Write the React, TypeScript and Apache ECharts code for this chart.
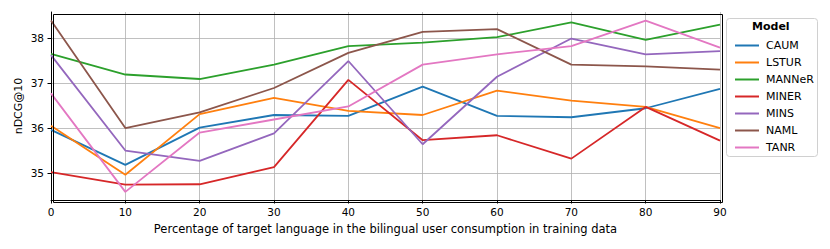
import React, { useEffect, useRef } from "react";
import * as echarts from "echarts";

const percentages = [0, 10, 20, 30, 40, 50, 60, 70, 80, 90];
const modelNames = ["CAUM", "LSTUR", "MANNeR", "MINER", "MINS", "NAML", "TANR"];
const caum = [35.96, 35.18, 36.01, 36.29, 36.27, 36.92, 36.27, 36.24, 36.44, 36.87];
const lstur = [36.05, 34.96, 36.31, 36.67, 36.38, 36.29, 36.83, 36.61, 36.47, 36.0];
const manner = [37.65, 37.19, 37.09, 37.41, 37.82, 37.9, 38.02, 38.35, 37.96, 38.3];
const miner = [35.02, 34.74, 34.75, 35.13, 37.07, 35.73, 35.84, 35.32, 36.47, 35.72];
const mins = [37.62, 35.5, 35.27, 35.88, 37.49, 35.64, 37.14, 37.99, 37.64, 37.71];
const naml = [38.39, 36.0, 36.35, 36.89, 37.67, 38.14, 38.2, 37.41, 37.37, 37.3];
const tanr = [36.77, 34.58, 35.9, 36.19, 36.48, 37.41, 37.64, 37.82, 38.39, 37.79];
const yTicks = [35, 36, 37, 38];

const seriesValues = [caum, lstur, manner, miner, mins, naml, tanr];
const colors = ["#1f77b4", "#ff7f0e", "#2ca02c", "#d62728", "#9467bd", "#8c564b", "#e377c2"];

const FONT = "DejaVu Sans";

export default function App() {
  const ref = useRef<HTMLDivElement>(null);
  useEffect(() => {
    if (!ref.current) return;
    const chart = echarts.init(ref.current, undefined, { renderer: "svg" });
    chart.setOption({
      animation: false,
      grid: { left: 51, right: 110, top: 12, bottom: 49, containLabel: false },
      xAxis: {
        type: "value",
        min: 0,
        max: 90,
        interval: 10,
        name: "Percentage of target language in the bilingual user consumption in training data",
        nameLocation: "middle",
        nameGap: 23,
        nameMoveOverlap: false,
        nameTextStyle: { fontFamily: FONT, fontSize: 11.5, color: "#000" },
        axisLine: { show: true, onZero: false, lineStyle: { color: "#000", width: 1 } },
        axisTick: { show: true, inside: false, length: 3.5, lineStyle: { color: "#000" } },
        axisLabel: { fontFamily: FONT, fontSize: 10.5, color: "#000", margin: 6 },
        splitLine: { show: true, lineStyle: { color: "#b0b0b0", width: 0.8 } },
      },
      yAxis: {
        type: "value",
        min: 34.4,
        max: 38.58,
        name: "nDCG@10",
        nameLocation: "middle",
        nameGap: 27,
        nameMoveOverlap: false,
        nameTextStyle: { fontFamily: FONT, fontSize: 11, color: "#000" },
        axisLine: { show: true, onZero: false, lineStyle: { color: "#000", width: 1 } },
        axisTick: { show: true, inside: false, length: 3.5, lineStyle: { color: "#000" }, customValues: yTicks },
        axisLabel: { fontFamily: FONT, fontSize: 10.5, color: "#000", margin: 7, customValues: yTicks },
        splitLine: { show: true, lineStyle: { color: "#b0b0b0", width: 0.8 } },
      },
      legend: {
        orient: "vertical",
        left: 730,
        top: 32,
        itemWidth: 24,
        itemHeight: 2,
        itemGap: 0,
        icon: "rect",
        textStyle: { fontFamily: FONT, fontSize: 11, color: "#000", lineHeight: 17, padding: [0, 0, 0, 2] },
        data: modelNames,
      },
      graphic: [
        {
          type: "rect",
          left: 51,
          top: 12,
          shape: { width: 669, height: 188 },
          style: { fill: "none", stroke: "#000", lineWidth: 1 },
          z: 10,
          silent: true,
        },
        {
          type: "rect",
          left: 726,
          top: 18,
          shape: { width: 91, height: 138, r: 3 },
          style: { fill: "#fff", stroke: "#d0d0d0", lineWidth: 1 },
          z: -1,
        },
        {
          type: "text",
          left: 752,
          top: 21,
          style: { text: "Model", fontFamily: FONT, fontSize: 11, fontWeight: "bold", fill: "#000" },
        },
      ],
      series: modelNames.map((name, i) => ({
        name,
        type: "line",
        data: percentages.map((p, j) => [p, seriesValues[i][j]]),
        showSymbol: false,
        symbol: "none",
        lineStyle: { color: colors[i], width: 1.8 },
        itemStyle: { color: colors[i] },
      })),
    });
    return () => chart.dispose();
  }, []);
  return <div ref={ref} style={{ width: 830, height: 249, position: "absolute", left: 0, top: 0 }} />;
}
